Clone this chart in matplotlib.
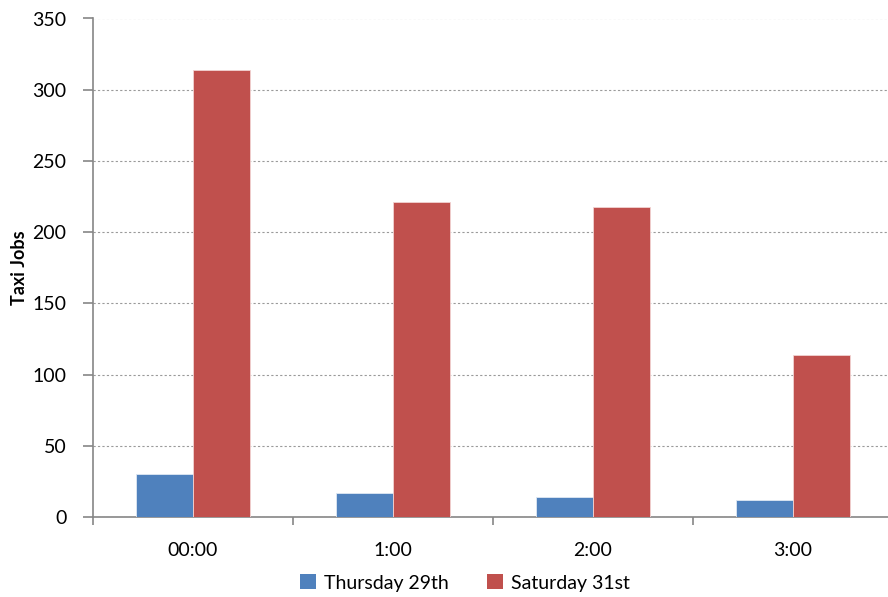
import matplotlib
matplotlib.use("Agg")
import matplotlib.pyplot as plt
import numpy as np
from matplotlib.patches import Patch

hours = ["00:00", "1:00", "2:00", "3:00"]
thursday = [30, 17, 14, 12]
saturday = [314, 221, 218, 114]
series_names = ["Thursday 29th", "Saturday 31st"]
colors = ["#4F81BD", "#C0504D"]

plt.rcParams["font.family"] = ["Lato", "DejaVu Sans"]

fig = plt.figure(figsize=(8.88, 5.97), dpi=100)
ax = fig.add_axes([93 / 888, 80 / 597, 800 / 888, 498.5 / 597])

x = np.arange(len(hours))
w = 0.285
ax.bar(x - w / 2, thursday, w, color=colors[0], edgecolor="#dfe8f3", linewidth=0.6, zorder=3)
ax.bar(x + w / 2, saturday, w, color=colors[1], edgecolor="#f2d3d2", linewidth=0.6, zorder=3)

ax.set_xlim(-0.5, 3.5)
ax.set_ylim(0, 350)
ax.set_yticks(np.arange(0, 351, 50))
ax.yaxis.grid(True, linestyle=(0, (2, 2)), color="#9a9a9a", linewidth=0.8, zorder=0)
ax.set_xticks(x)
ax.set_xticklabels(hours)
ax.set_xticks(np.arange(-0.5, 4.0, 1), minor=True)
ax.tick_params(axis="x", which="major", length=0, pad=18, labelsize=14)
ax.tick_params(axis="x", which="minor", length=6, color="#868686", width=1.2)
ax.tick_params(axis="y", length=7, color="#868686", width=1.2, labelsize=14, pad=12)

for side in ["top", "right"]:
    ax.spines[side].set_visible(False)
for side in ["left", "bottom"]:
    ax.spines[side].set_color("#868686")
    ax.spines[side].set_linewidth(1.2)

ax.set_ylabel("Taxi Jobs", fontsize=13, fontweight="bold")
ax.yaxis.set_label_coords(-65 / 800, 0.5)

handles = [Patch(facecolor=c, edgecolor="none") for c in colors]
fig.legend(handles, series_names, loc="center", bbox_to_anchor=(465 / 888, 1 - 583 / 597),
           ncol=2, frameon=False, fontsize=14, handlelength=0.8, handleheight=0.8,
           handletextpad=0.4, columnspacing=2.0)

fig.savefig("out.png", dpi=100)
